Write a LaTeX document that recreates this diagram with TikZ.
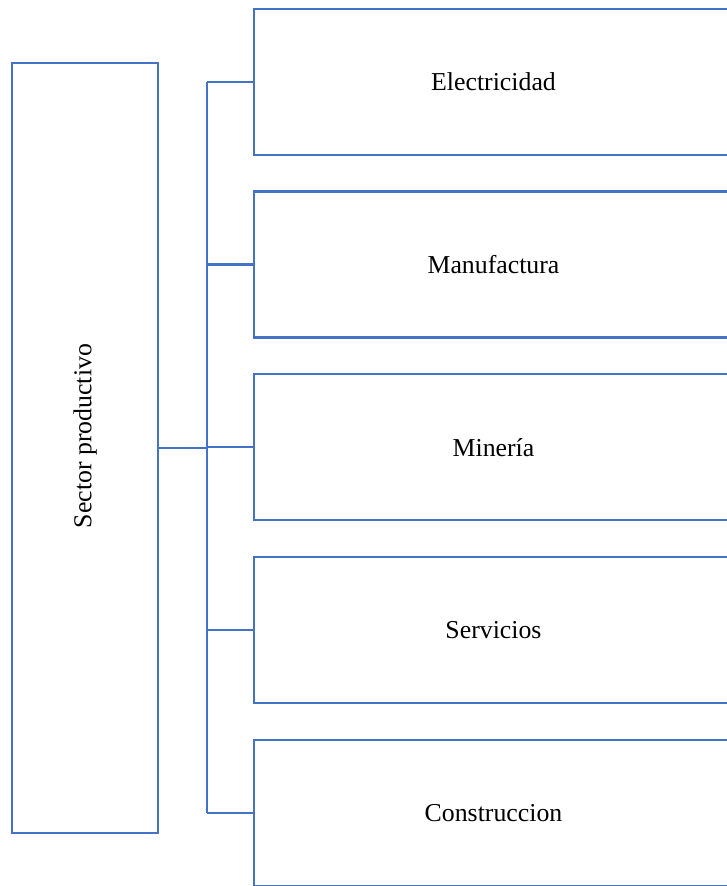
\documentclass[tikz,border=0pt]{standalone}
\usepackage{fontspec}
\setmainfont{Liberation Serif}
\definecolor{officeblue}{HTML}{4472C4}
\begin{document}
\begin{tikzpicture}[x=1pt,y=1pt,
  box/.style={draw=officeblue,line width=2.3pt,fill=white,rectangle,inner sep=0pt,
    font=\fontsize{25.8}{30}\selectfont},
  itembox/.style={box,minimum width=479pt,minimum height=146pt},
  link/.style={draw=officeblue,line width=2.3pt}]
\useasboundingbox (0,0) rectangle (727,886);
% main vertical box
\node[box,minimum width=146.3pt,minimum height=769.7pt] (sector) at (85.15,438.1) {};
\node[rotate=90,font=\fontsize{25.8}{30}\selectfont] (sectortxt) at (85.15,450) {Sector productivo};
% five branches on the right
\node[itembox] (b1) at (493.5,804)   {Electricidad};
\node[itembox] (b2) at (493.5,621.4) {Manufactura};
\node[itembox] (b3) at (493.5,438.7) {Minería};
\node[itembox] (b4) at (493.5,256)   {Servicios};
\node[itembox] (b5) at (493.5,73.3)  {Construccion};
% bracket connector
\coordinate (j) at (206.7,438.1);
\draw[link] (sector.east) -- (j);
\draw[link] (j |- b1.west) -- (j |- b5.west);
\foreach \b in {b1,b2,b3,b4,b5}
  \draw[link] (j |- \b.west) -- (\b.west);
\end{tikzpicture}
\end{document}
